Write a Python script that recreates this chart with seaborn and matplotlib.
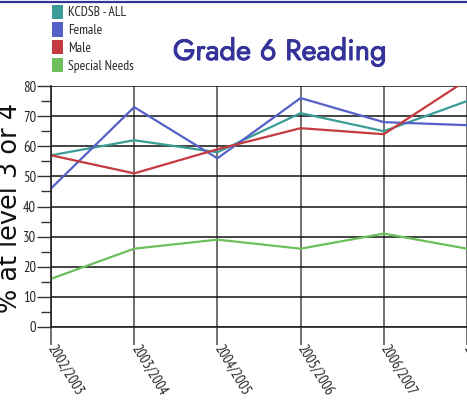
import matplotlib
matplotlib.use("Agg")
import matplotlib.pyplot as plt
import matplotlib.patheffects as pe
import seaborn as sns
import pandas as pd
from matplotlib.patches import Patch
from matplotlib.lines import Line2D
from matplotlib.ticker import MultipleLocator
from matplotlib import font_manager

years = ["2002/2003", "2003/2004", "2004/2005", "2005/2006", "2006/2007", "2007/2008"]
kcdsb_all = [57, 62, 58, 71, 65, 75]
female = [46, 73, 56, 76, 68, 67]
male = [57, 51, 59, 66, 64, 82]
special_needs = [16, 26, 29, 26, 31, 26]

series_names = ["KCDSB - ALL", "Female", "Male", "Special Needs"]
colors = ["#3a9c96", "#5560c8", "#c43a40", "#6cbf5c"]

rows = []
for name, vals in zip(series_names, [kcdsb_all, female, male, special_needs]):
    for i, (yr, v) in enumerate(zip(years, vals)):
        rows.append({"x": i, "year": yr, "value": v, "series": name})
df = pd.DataFrame(rows)

available = {f.name for f in font_manager.fontManager.ttflist}


def pick(cands):
    for c in cands:
        if c in available:
            return c
    return "DejaVu Sans"


narrow = pick(["Liberation Sans Narrow", "Arial Narrow", "PT Sans Narrow",
               "Archivo Narrow", "Roboto Condensed", "Open Sans Condensed",
               "Fira Sans Condensed", "IBM Plex Sans Condensed",
               "Encode Sans Condensed", "Asap Condensed", "Sofia Sans Condensed",
               "Barlow Semi Condensed"])
title_font = pick(["Jost", "Futura", "Century Gothic", "League Spartan",
                   "Spartan", "Questrial", "Didact Gothic", "Poppins"])

sns.set_style("white")
fig = plt.figure(figsize=(4.67, 4.16), dpi=100)
renderer = fig.canvas.get_renderer()
PX = 100 / 72.0  # pixels per point


def fit(t, target_w=None, target_h=None):
    for _ in range(3):
        bb = t.get_window_extent(renderer)
        if target_w is not None:
            scale = target_w / bb.width
        else:
            scale = target_h / bb.height
        t.set_fontsize(t.get_fontsize() * scale)
    return t.get_fontsize()


ax = fig.add_axes([51 / 467, 1 - 327 / 416, 1 - 51 / 467, (327 - 86) / 416])

sns.lineplot(data=df, x="x", y="value", hue="series", palette=colors,
             hue_order=series_names, sort=False, linewidth=1.6, ax=ax,
             legend=False)

ax.set_xlim(0, 416 / 84)
ax.set_ylim(0, 80)
ax.set_xticks(range(len(years)))
ax.set_xticklabels(years)
ax.yaxis.set_major_locator(MultipleLocator(10))
ax.yaxis.set_minor_locator(MultipleLocator(5))

for s in ["top", "right"]:
    ax.spines[s].set_visible(False)
ax.spines["left"].set_color("#222222")
ax.spines["left"].set_linewidth(1.2)
ax.spines["bottom"].set_color("#222222")
ax.spines["bottom"].set_linewidth(1.2)

ax.grid(axis="y", color="#111111", linewidth=1.1)
ax.grid(axis="x", color="#6f6f6f", linewidth=1.4)
ax.set_axisbelow(True)

ax.tick_params(axis="y", which="major", length=10, width=1, color="#333333",
               labelsize=10.5, pad=0.8, left=True)
ax.tick_params(axis="y", which="minor", length=7, width=1, color="#333333", left=True)
ax.tick_params(axis="x", length=13, width=1.3, color="#666666", labelsize=10.5,
               pad=0.8, bottom=True, direction="out")
for lab in ax.get_yticklabels():
    lab.set_family(narrow)
for lab in ax.get_xticklabels():
    lab.set_family(narrow)
    lab.set_rotation(-59)
    lab.set_rotation_mode("anchor")
    lab.set_ha("left")
    lab.set_va("center")

ax.set_xlabel("")
ax.set_ylabel("")

ylab = fig.text(23 / 467, 1 - 208 / 416, "% at level 3 or 4", rotation=90,
                fontsize=17, ha="right", va="center", color="#111111",
                family="DejaVu Sans")
fit(ylab, target_h=210)

title = fig.text(279.5 / 467, 1 - 60 / 416, "Grade 6 Reading", fontsize=17,
                 fontweight="bold", family=title_font, color="#33339a",
                 ha="center", va="baseline")
fit(title, target_w=214)
title.set_path_effects([pe.withStroke(linewidth=0.7, foreground="#33339a")])

probe = fig.text(0, 0, "KCDSB - ALL", family=narrow, fontsize=8.5)
lfs = fit(probe, target_w=58)
probe.remove()
fpx = lfs * PX

handles = [Patch(facecolor=c, edgecolor="none") for c in colors]
fig.legend(handles, series_names, loc="upper left",
           bbox_to_anchor=(52 / 467, 1 - 4.5 / 416), frameon=False,
           prop={"family": narrow, "size": lfs},
           handlelength=11 / fpx, handleheight=17 / fpx,
           handletextpad=5 / fpx, labelspacing=3 / fpx, borderaxespad=0,
           borderpad=0)

fig.add_artist(Line2D([0, 1], [1 - 1.5 / 416, 1 - 1.5 / 416],
                      transform=fig.transFigure, color="#33339a", linewidth=1.6))

fig.savefig("out.png", dpi=100)
